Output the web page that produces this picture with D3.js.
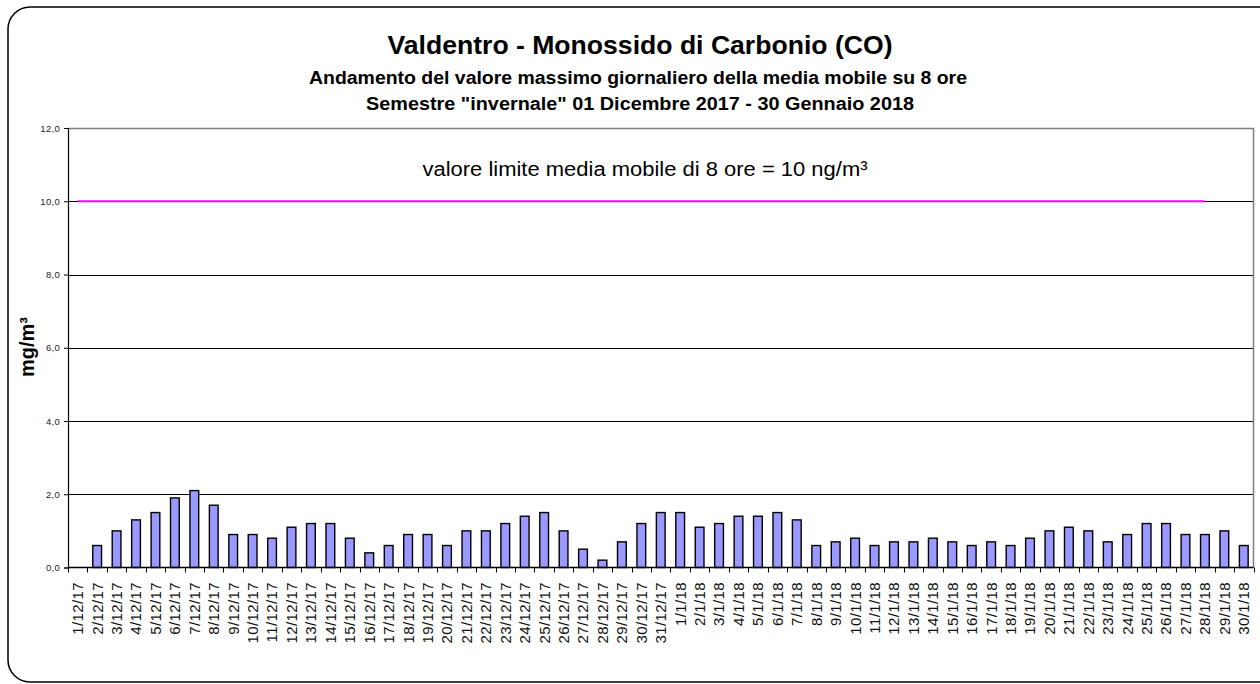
<!DOCTYPE html>
<html>
<head>
<meta charset="utf-8">
<script src="https://cdn.jsdelivr.net/npm/d3@7"></script>
<style>
  body { margin: 0; background: #fff; }
  svg { display: block; font-family: "Liberation Sans", Arial, sans-serif; }
</style>
</head>
<body>
<div id="chart"></div>
<script>
// daily dates (categories)
var days = ["1/12/17","2/12/17","3/12/17","4/12/17","5/12/17","6/12/17","7/12/17","8/12/17","9/12/17","10/12/17",
  "11/12/17","12/12/17","13/12/17","14/12/17","15/12/17","16/12/17","17/12/17","18/12/17","19/12/17","20/12/17",
  "21/12/17","22/12/17","23/12/17","24/12/17","25/12/17","26/12/17","27/12/17","28/12/17","29/12/17","30/12/17",
  "31/12/17","1/1/18","2/1/18","3/1/18","4/1/18","5/1/18","6/1/18","7/1/18","8/1/18","9/1/18",
  "10/1/18","11/1/18","12/1/18","13/1/18","14/1/18","15/1/18","16/1/18","17/1/18","18/1/18","19/1/18",
  "20/1/18","21/1/18","22/1/18","23/1/18","24/1/18","25/1/18","26/1/18","27/1/18","28/1/18","29/1/18",
  "30/1/18"];

// max daily 8h moving average CO (mg/m3)
var coValues = [null,0.6,1.0,1.3,1.5,1.9,2.1,1.7,0.9,0.9,
  0.8,1.1,1.2,1.2,0.8,0.4,0.6,0.9,0.9,0.6,
  1.0,1.0,1.2,1.4,1.5,1.0,0.5,0.2,0.7,1.2,
  1.5,1.5,1.1,1.2,1.4,1.4,1.5,1.3,0.6,0.7,
  0.8,0.6,0.7,0.7,0.8,0.7,0.6,0.7,0.6,0.8,
  1.0,1.1,1.0,0.7,0.9,1.2,1.2,0.9,0.9,1.0,
  0.6];

// limit value series (stops at 28/1/18)
var limitValues = [10,10,10,10,10,10,10,10,10,10,
  10,10,10,10,10,10,10,10,10,10,
  10,10,10,10,10,10,10,10,10,10,
  10,10,10,10,10,10,10,10,10,10,
  10,10,10,10,10,10,10,10,10,10,
  10,10,10,10,10,10,10,10,10,null,
  null];

var yTicks = [0, 2, 4, 6, 8, 10, 12];

var titleText = "Valdentro - Monossido di Carbonio (CO)";
var subTitle1 = "Andamento del valore massimo giornaliero della media mobile su 8 ore";
var subTitle2 = "Semestre \"invernale\" 01 Dicembre 2017 - 30 Gennaio 2018";
var limitLabel = "valore limite media mobile di 8 ore = 10 ng/m³";
var yLabel = "mg/m³";

var W = 1260, H = 684;
var plot = {left: 68, right: 1253.5, top: 128, bottom: 567.5};

var svg = d3.select("#chart").append("svg")
    .attr("width", W)
    .attr("height", H);

// outer rounded frame
svg.append("rect")
    .attr("x", 8).attr("y", 7)
    .attr("width", 1290).attr("height", 675)
    .attr("rx", 22).attr("ry", 22)
    .attr("fill", "#fff")
    .attr("stroke", "#000")
    .attr("stroke-width", 1.5);

var x = d3.scaleBand()
    .domain(days)
    .range([plot.left, plot.right])
    .paddingInner(0).paddingOuter(0);

var y = d3.scaleLinear()
    .domain([0, 12])
    .range([plot.bottom, plot.top]);

// gridlines
svg.append("g").selectAll("line")
    .data(yTicks.filter(function(d){ return d > 0 && d < 12; }))
  .enter().append("line")
    .attr("x1", plot.left).attr("x2", plot.right)
    .attr("y1", function(d){ return Math.round(y(d)) + 0.5; })
    .attr("y2", function(d){ return Math.round(y(d)) + 0.5; })
    .attr("stroke", "#000")
    .attr("stroke-width", 1);

// plot border top / right (grey)
svg.append("path")
    .attr("d", "M" + plot.left + "," + (y(12) + 0.5) + "H" + plot.right + "V" + plot.bottom)
    .attr("fill", "none")
    .attr("stroke", "#808080")
    .attr("stroke-width", 1.5);

// bars
var barW = x.bandwidth() * 0.45;
svg.append("g").selectAll("rect")
    .data(days.map(function(d, i){ return {day: d, v: coValues[i]}; })
      .filter(function(d){ return d.v != null; }))
  .enter().append("rect")
    .attr("x", function(d){ return x(d.day) + (x.bandwidth() - barW) / 2; })
    .attr("y", function(d){ return y(d.v); })
    .attr("width", barW)
    .attr("height", function(d){ return y(0) - y(d.v); })
    .attr("fill", "#9999ff")
    .attr("stroke", "#000")
    .attr("stroke-width", 1.4);

// limit line
var limitLine = d3.line()
    .defined(function(d){ return d.v != null; })
    .x(function(d){ return x(d.day) + x.bandwidth() / 2; })
    .y(function(d){ return y(d.v); });

svg.append("path")
    .datum(days.map(function(d, i){ return {day: d, v: limitValues[i]}; }))
    .attr("d", limitLine)
    .attr("fill", "none")
    .attr("stroke", "#ff00ff")
    .attr("stroke-width", 2);

// y axis
var yAxis = svg.append("g")
    .attr("transform", "translate(" + plot.left + ",0)")
    .call(d3.axisLeft(y).tickValues(yTicks).tickSize(4).tickPadding(4)
      .tickFormat(function(d){ return d3.format(".1f")(d).replace(".", ","); }));
yAxis.select(".domain").attr("stroke", "#000").attr("stroke-width", 1.2);
yAxis.selectAll(".tick line").attr("stroke", "#000");
yAxis.selectAll("text")
    .attr("font-size", 9.5)
    .attr("letter-spacing", 0.3)
    .attr("fill", "#222")
    .attr("font-family", "Liberation Sans, Arial, sans-serif");

// x axis: ticks between categories
svg.append("line")
    .attr("x1", plot.left).attr("x2", plot.right)
    .attr("y1", plot.bottom).attr("y2", plot.bottom)
    .attr("stroke", "#000").attr("stroke-width", 1.5);

svg.append("g").selectAll("line")
    .data(days.concat(["end"]))
  .enter().append("line")
    .attr("x1", function(d, i){ return Math.round(i < days.length ? x(d) : plot.right) + 0.5; })
    .attr("x2", function(d, i){ return Math.round(i < days.length ? x(d) : plot.right) + 0.5; })
    .attr("y1", plot.bottom)
    .attr("y2", plot.bottom + 5)
    .attr("stroke", "#000");

svg.append("g").selectAll("text")
    .data(days)
  .enter().append("text")
    .attr("transform", function(d){
      return "translate(" + (x(d) + x.bandwidth() / 2) + "," + 582 + ") rotate(-90)";
    })
    .attr("dy", "0.36em")
    .attr("text-anchor", "end")
    .attr("font-size", 15)
    .attr("letter-spacing", 0.4)
    .attr("fill", "#111")
    .text(function(d){ return d; });

// titles
svg.append("text")
    .attr("x", 640).attr("y", 54)
    .attr("text-anchor", "middle")
    .attr("font-size", 26).attr("font-weight", "bold")
    .attr("textLength", 505).attr("lengthAdjust", "spacingAndGlyphs")
    .text(titleText);

svg.append("text")
    .attr("x", 638).attr("y", 84)
    .attr("text-anchor", "middle")
    .attr("font-size", 18).attr("font-weight", "bold")
    .attr("textLength", 658).attr("lengthAdjust", "spacingAndGlyphs")
    .text(subTitle1);

svg.append("text")
    .attr("x", 640).attr("y", 110)
    .attr("text-anchor", "middle")
    .attr("font-size", 18).attr("font-weight", "bold")
    .attr("textLength", 548).attr("lengthAdjust", "spacingAndGlyphs")
    .text(subTitle2);

// limit annotation
svg.append("text")
    .attr("x", 645).attr("y", 176)
    .attr("text-anchor", "middle")
    .attr("font-size", 20)
    .attr("textLength", 445).attr("lengthAdjust", "spacingAndGlyphs")
    .text(limitLabel);

// y axis title
svg.append("text")
    .attr("transform", "translate(34,347) rotate(-90)")
    .attr("text-anchor", "middle")
    .attr("font-size", 20).attr("font-weight", "bold")
    .attr("textLength", 60).attr("lengthAdjust", "spacingAndGlyphs")
    .text(yLabel);
</script>
</body>
</html>
